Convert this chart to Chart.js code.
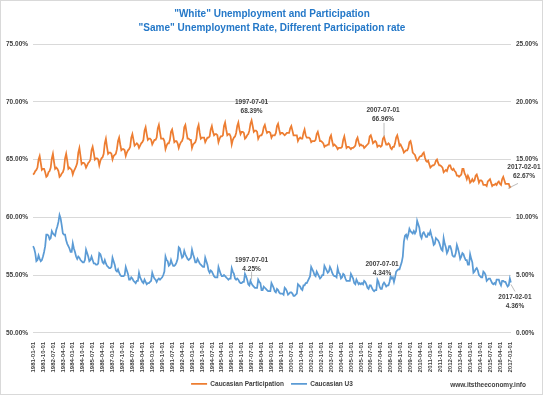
<!DOCTYPE html>
<html>
<head>
<meta charset="utf-8">
<script src="https://cdn.jsdelivr.net/npm/chart.js@4.4.1/dist/chart.umd.min.js"></script>
<style>
  html, body { margin: 0; padding: 0; background: #fff; }
  #wrap { width: 543px; height: 395px; position: relative; }
</style>
</head>
<body>
<div id="wrap"><canvas id="chart" width="543" height="395"></canvas></div>
<script>
// meses de 1981-01 até 2017-02
var firstYear = 1981, lastYear = 2017, lastMonth = 2;
var months = [];
for (var y = firstYear; y <= lastYear; y++) {
  for (var m = 1; m <= 12; m++) {
    if (y === lastYear && m > lastMonth) break;
    months.push(y + '-' + (m < 10 ? '0' + m : m) + '-01');
  }
}

// taxa de participação (eixo esquerdo, %)
var participation = [
  63.7, 63.8, 64.0, 64.1, 64.3, 65.0, 65.3, 64.7, 64.1, 64.2, 64.2, 63.9, // 1981
  63.5, 63.6, 63.9, 64.0, 64.3, 65.1, 65.5, 64.8, 64.2, 64.3, 64.2, 64.0, // 1982
  63.5, 63.6, 63.8, 63.9, 64.2, 65.1, 65.5, 64.9, 64.2, 64.3, 64.2, 64.1, // 1983
  63.7, 64.0, 64.2, 64.4, 64.7, 65.6, 66.0, 65.3, 64.6, 64.7, 64.7, 64.6, // 1984
  64.3, 64.5, 64.7, 64.8, 65.0, 65.8, 66.1, 65.6, 65.0, 65.1, 65.1, 65.0, // 1985
  64.5, 64.9, 65.1, 65.2, 65.5, 66.4, 66.8, 66.1, 65.5, 65.6, 65.6, 65.5, // 1986
  65.0, 65.3, 65.4, 65.5, 65.9, 66.6, 66.9, 66.3, 65.8, 65.9, 65.9, 65.8, // 1987
  65.3, 65.6, 65.8, 65.9, 66.1, 66.9, 67.2, 66.7, 66.2, 66.3, 66.4, 66.3, // 1988
  66.0, 66.2, 66.4, 66.5, 66.7, 67.5, 67.8, 67.2, 66.7, 66.8, 66.8, 66.7, // 1989
  66.3, 66.5, 66.7, 66.7, 66.9, 67.7, 68.0, 67.4, 66.8, 66.8, 66.8, 66.6, // 1990
  65.9, 66.2, 66.4, 66.4, 66.7, 67.4, 67.6, 67.1, 66.5, 66.6, 66.6, 66.4, // 1991
  66.0, 66.3, 66.5, 66.6, 66.9, 67.8, 68.0, 67.4, 66.8, 66.8, 66.7, 66.7, // 1992
  66.0, 66.3, 66.4, 66.5, 66.8, 67.7, 68.0, 67.3, 66.8, 66.9, 66.9, 66.9, // 1993
  66.5, 66.7, 66.9, 66.9, 67.0, 67.6, 67.9, 67.4, 67.1, 67.2, 67.2, 67.1, // 1994
  66.5, 66.8, 67.0, 67.0, 67.1, 67.9, 68.2, 67.6, 67.1, 67.2, 67.2, 67.0, // 1995
  66.3, 66.7, 66.9, 67.0, 67.3, 67.9, 68.2, 67.6, 67.2, 67.4, 67.4, 67.3, // 1996
  66.8, 66.9, 67.1, 67.2, 67.5, 68.1, 68.39, 67.9, 67.4, 67.5, 67.5, 67.4, // 1997
  66.8, 67.0, 67.1, 67.1, 67.3, 67.8, 68.0, 67.6, 67.3, 67.4, 67.4, 67.3, // 1998
  66.9, 67.1, 67.1, 67.1, 67.3, 67.9, 68.1, 67.6, 67.2, 67.3, 67.3, 67.2, // 1999
  67.1, 67.2, 67.3, 67.3, 67.3, 67.7, 67.9, 67.5, 67.1, 67.1, 67.1, 67.1, // 2000
  66.6, 66.8, 66.9, 66.8, 66.8, 67.3, 67.6, 67.1, 66.9, 66.9, 66.9, 66.8, // 2001
  66.5, 66.6, 66.6, 66.6, 66.7, 67.2, 67.4, 67.0, 66.6, 66.6, 66.5, 66.4, // 2002
  66.1, 66.2, 66.2, 66.3, 66.3, 66.9, 67.1, 66.6, 66.2, 66.3, 66.2, 66.1, // 2003
  65.9, 66.0, 66.0, 66.0, 66.1, 66.7, 67.0, 66.5, 66.0, 66.1, 66.1, 66.0, // 2004
  65.9, 66.0, 66.0, 66.1, 66.2, 66.7, 66.9, 66.5, 66.2, 66.3, 66.2, 66.2, // 2005
  66.0, 66.1, 66.2, 66.3, 66.4, 67.0, 67.1, 66.8, 66.4, 66.5, 66.6, 66.5, // 2006
  66.1, 66.2, 66.2, 66.1, 66.2, 66.8, 66.96, 66.6, 66.3, 66.3, 66.4, 66.3, // 2007
  66.0, 65.9, 66.1, 66.1, 66.4, 66.9, 67.1, 66.7, 66.2, 66.3, 66.1, 65.9, // 2008
  65.6, 65.7, 65.8, 65.8, 66.0, 66.5, 66.6, 66.2, 65.6, 65.5, 65.4, 65.1, // 2009
  64.9, 65.0, 65.2, 65.3, 65.3, 65.5, 65.6, 65.2, 64.9, 64.8, 64.9, 64.6, // 2010
  64.3, 64.4, 64.5, 64.5, 64.6, 64.9, 65.0, 64.7, 64.5, 64.5, 64.4, 64.3, // 2011
  63.9, 64.0, 64.1, 64.0, 64.3, 64.5, 64.5, 64.2, 64.1, 64.2, 64.0, 63.9, // 2012
  63.6, 63.6, 63.5, 63.6, 63.7, 64.2, 64.2, 63.8, 63.6, 63.3, 63.6, 63.4, // 2013
  63.0, 63.1, 63.3, 63.1, 63.2, 63.6, 63.7, 63.4, 63.0, 63.2, 63.2, 63.1, // 2014
  62.8, 62.8, 62.8, 62.7, 63.1, 63.2, 63.3, 63.0, 62.7, 62.8, 62.8, 62.9, // 2015
  62.8, 63.0, 63.1, 62.9, 62.8, 63.3, 63.5, 63.2, 62.9, 62.9, 62.9, 62.9, // 2016
  62.6, 62.67                                                              // 2017
];

// taxa de desemprego U3 (eixo direito, %)
var u3 = [
  7.5, 7.3, 6.9, 6.2, 6.3, 6.7, 6.4, 6.2, 6.3, 6.6, 7.0, 7.5, // 1981
  8.5, 8.5, 8.4, 8.1, 8.2, 8.8, 8.6, 8.5, 8.4, 8.9, 9.2, 9.6, // 1982
  10.2, 9.9, 9.3, 8.6, 8.5, 8.5, 8.0, 7.7, 7.5, 7.3, 7.0, 7.0, // 1983
  7.75, 7.3, 7.0, 6.6, 6.4, 6.6, 6.5, 6.3, 6.2, 6.1, 6.1, 6.3, // 1984
  7.2, 6.9, 6.6, 6.2, 6.3, 6.6, 6.3, 6.0, 6.0, 5.9, 5.9, 6.0, // 1985
  6.9, 6.8, 6.5, 6.1, 6.0, 6.3, 6.0, 5.8, 5.7, 5.6, 5.6, 5.7, // 1986
  6.5, 6.2, 5.9, 5.4, 5.3, 5.5, 5.2, 5.0, 4.9, 4.9, 4.9, 5.0, // 1987
  5.7, 5.4, 5.1, 4.6, 4.6, 4.8, 4.7, 4.5, 4.4, 4.3, 4.5, 4.5, // 1988
  5.2, 4.8, 4.6, 4.4, 4.3, 4.6, 4.4, 4.2, 4.3, 4.3, 4.4, 4.5, // 1989
  5.2, 4.9, 4.7, 4.6, 4.4, 4.6, 4.7, 4.6, 4.7, 4.8, 5.0, 5.3, // 1990
  6.6, 6.3, 6.2, 5.8, 5.9, 6.3, 6.0, 5.8, 5.8, 5.9, 6.1, 6.4, // 1991
  7.4, 7.3, 6.9, 6.5, 6.6, 7.1, 6.8, 6.6, 6.4, 6.3, 6.4, 6.5, // 1992
  7.2, 6.8, 6.5, 6.1, 6.1, 6.4, 6.2, 6.0, 5.9, 5.8, 5.7, 5.7, // 1993
  6.5, 6.2, 5.9, 5.4, 5.2, 5.4, 5.3, 5.1, 4.9, 4.8, 4.8, 4.8, // 1994
  5.7, 5.4, 5.1, 4.9, 4.9, 5.0, 4.9, 4.8, 4.7, 4.6, 4.7, 4.7, // 1995
  5.6, 5.3, 5.1, 4.7, 4.6, 4.7, 4.6, 4.4, 4.3, 4.3, 4.4, 4.4, // 1996
  5.1, 4.9, 4.6, 4.2, 4.1, 4.5, 4.25, 4.1, 4.0, 3.9, 3.9, 3.9, // 1997
  4.6, 4.4, 4.3, 3.7, 3.7, 4.0, 3.9, 3.8, 3.7, 3.6, 3.6, 3.6, // 1998
  4.3, 4.1, 3.9, 3.6, 3.5, 3.8, 3.7, 3.5, 3.4, 3.4, 3.4, 3.3, // 1999
  3.9, 3.8, 3.6, 3.3, 3.4, 3.5, 3.5, 3.4, 3.2, 3.2, 3.3, 3.4, // 2000
  4.2, 4.1, 4.0, 3.8, 3.7, 4.1, 4.1, 4.3, 4.3, 4.5, 4.7, 4.9, // 2001
  5.7, 5.5, 5.3, 5.0, 4.9, 5.3, 5.1, 4.9, 4.7, 4.8, 5.0, 5.0, // 2002
  5.8, 5.6, 5.4, 5.2, 5.3, 5.7, 5.5, 5.2, 5.0, 4.9, 4.9, 4.8, // 2003
  5.6, 5.2, 5.1, 4.7, 4.8, 5.1, 5.0, 4.7, 4.5, 4.5, 4.5, 4.5, // 2004
  5.1, 4.9, 4.7, 4.3, 4.2, 4.6, 4.4, 4.2, 4.3, 4.2, 4.3, 4.2, // 2005
  4.5, 4.4, 4.2, 3.9, 3.8, 4.1, 4.1, 3.9, 3.7, 3.6, 3.7, 3.7, // 2006
  4.6, 4.4, 4.0, 3.8, 3.8, 4.2, 4.34, 4.2, 4.0, 4.1, 4.1, 4.4, // 2007
  4.9, 4.7, 4.8, 4.4, 4.8, 5.3, 5.4, 5.5, 5.5, 5.8, 6.1, 6.6, // 2008
  7.9, 8.4, 8.5, 8.2, 8.5, 9.0, 8.8, 8.7, 8.6, 8.8, 8.6, 8.8, // 2009
  9.7, 9.4, 9.1, 8.4, 8.2, 8.6, 8.7, 8.5, 8.3, 8.3, 8.6, 8.5, // 2010
  8.8, 8.4, 8.1, 7.6, 7.7, 8.2, 8.1, 8.0, 7.8, 7.5, 7.2, 7.1, // 2011
  8.2, 7.7, 7.4, 6.9, 7.1, 7.5, 7.5, 7.2, 6.7, 6.6, 6.6, 6.9, // 2012
  7.6, 7.3, 6.9, 6.4, 6.6, 6.9, 6.8, 6.5, 6.3, 6.3, 5.9, 5.9, // 2013
  6.8, 6.4, 6.1, 5.2, 5.3, 5.5, 5.6, 5.4, 5.0, 4.9, 4.8, 4.8, // 2014
  5.3, 5.2, 5.0, 4.5, 4.6, 4.7, 4.7, 4.5, 4.3, 4.2, 4.3, 4.2, // 2015
  4.6, 4.6, 4.6, 4.3, 4.1, 4.5, 4.5, 4.4, 4.4, 4.2, 4.0, 4.1, // 2016
  4.7, 4.36                                                    // 2017
];

var leftTicks = [50, 55, 60, 65, 70, 75];
var rightTicks = [0, 5, 10, 15, 20, 25];
var tickEvery = 9; // um rótulo a cada 9 meses

var ORANGE = '#ED7D31', BLUE = '#5B9BD5', TXT = '#404040', FONT = "'Liberation Sans', Arial, sans-serif";

// rótulos de pontos (datas destacadas)
var callouts = [
  { ds: 0, date: '1997-07-01', dx: 0, dy: -18, lead: null },
  { ds: 0, date: '2007-07-01', dx: -1, dy: -27, lead: [0, -14, 0, 0] },
  { ds: 0, date: '2017-02-01', dx: 13, dy: -19, lead: [-3, 2, 7, -3] },
  { ds: 1, date: '1997-07-01', dx: 0, dy: -24, lead: [0, -12, 0, -4] },
  { ds: 1, date: '2007-07-01', dx: -2, dy: -18, lead: null },
  { ds: 1, date: '2017-02-01', dx: 4, dy: 15, lead: [0, 2, 4, 9] }
];

var calloutPlugin = {
  id: 'callouts',
  afterDatasetsDraw: function (chart) {
    var ctx = chart.ctx;
    ctx.save();
    ctx.font = 'bold 6.5px ' + FONT;
    ctx.fillStyle = TXT;
    ctx.textAlign = 'center';
    ctx.textBaseline = 'middle';
    callouts.forEach(function (c) {
      var i = months.indexOf(c.date);
      var pt = chart.getDatasetMeta(c.ds).data[i];
      var val = chart.data.datasets[c.ds].data[i];
      if (c.lead) {
        ctx.strokeStyle = '#a6a6a6';
        ctx.lineWidth = 0.75;
        ctx.beginPath();
        ctx.moveTo(pt.x + c.lead[0], pt.y + c.lead[1]);
        ctx.lineTo(pt.x + c.lead[2], pt.y + c.lead[3]);
        ctx.stroke();
      }
      ctx.fillText(c.date, pt.x + c.dx, pt.y + c.dy);
      ctx.fillText(val.toFixed(2) + '%', pt.x + c.dx, pt.y + c.dy + 9);
    });
    // fonte e moldura
    ctx.font = 'bold 6.5px ' + FONT;
    ctx.textAlign = 'right';
    ctx.fillText('www.itstheeconomy.info', 526, 385);
    ctx.strokeStyle = '#d9d9d9';
    ctx.lineWidth = 1;
    ctx.strokeRect(0.5, 0.5, chart.width - 1, chart.height - 1);
    ctx.restore();
  }
};

var ctx = document.getElementById('chart').getContext('2d');
var chart = new Chart(ctx, {
  type: 'line',
  data: {
    labels: months,
    datasets: [{
      label: 'Caucasian Participation',
      data: participation,
      borderColor: ORANGE,
      backgroundColor: ORANGE,
      borderWidth: 1.75,
      pointRadius: 0,
      yAxisID: 'y'
    }, {
      label: 'Caucasian U3',
      data: u3,
      borderColor: BLUE,
      backgroundColor: BLUE,
      borderWidth: 1.75,
      pointRadius: 0,
      yAxisID: 'y1'
    }]
  },
  options: {
    responsive: false,
    animation: false,
    layout: { padding: { left: 1, right: 0, top: 0, bottom: -2 } },
    plugins: {
      title: {
        display: true,
        text: ['"White" Unemployment and Participation', '"Same" Unemployment Rate, Different Participation rate'],
        color: '#2478C8',
        font: { family: FONT, size: 10, weight: 'bold', lineHeight: 1.4 },
        padding: { top: 7, bottom: 9 }
      },
      legend: {
        position: 'bottom',
        labels: {
          usePointStyle: true,
          pointStyle: 'line',
          pointStyleWidth: 16,
          color: TXT,
          font: { family: FONT, size: 6.5, weight: 'bold' },
          padding: 7
        }
      },
      tooltip: { enabled: false }
    },
    scales: {
      x: {
        grid: { display: false },
        border: { color: '#d9d9d9' },
        ticks: {
          autoSkip: false,
          minRotation: 90,
          maxRotation: 90,
          color: TXT,
          font: { family: FONT, size: 6, weight: 'bold' },
          padding: 1,
          callback: function (v, i) { return i % tickEvery === 0 ? months[i] : ''; }
        }
      },
      y: {
        position: 'left',
        min: leftTicks[0],
        max: leftTicks[leftTicks.length - 1],
        afterBuildTicks: function (s) { s.ticks = leftTicks.map(function (v) { return { value: v }; }); },
        grid: { color: '#d9d9d9', drawTicks: false },
        border: { display: false },
        ticks: {
          color: TXT,
          font: { family: FONT, size: 6.5, weight: 'bold' },
          padding: 5,
          callback: function (v) { return v.toFixed(2) + '%'; }
        }
      },
      y1: {
        position: 'right',
        min: rightTicks[0],
        max: rightTicks[rightTicks.length - 1],
        afterBuildTicks: function (s) { s.ticks = rightTicks.map(function (v) { return { value: v }; }); },
        grid: { display: false, drawTicks: false },
        border: { display: false },
        ticks: {
          color: TXT,
          font: { family: FONT, size: 6.5, weight: 'bold' },
          padding: 5,
          callback: function (v) { return v.toFixed(2) + '%'; }
        }
      }
    }
  },
  plugins: [calloutPlugin]
});
</script>
</body>
</html>
